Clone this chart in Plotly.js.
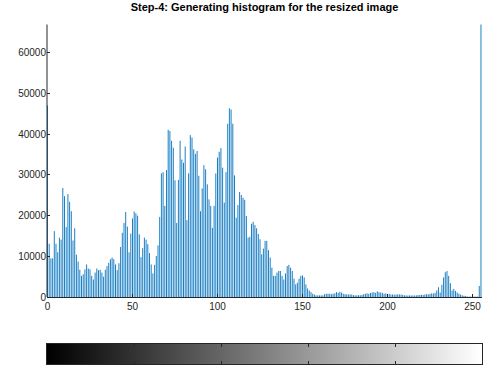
<!DOCTYPE html>
<html>
<head>
<meta charset="utf-8">
<script src="https://cdn.plot.ly/plotly-3.0.1.min.js"></script>
<style>
html,body{margin:0;padding:0;background:#fff;}
#wrap{position:relative;width:498px;height:382px;}
#chart,#cbar{position:absolute;left:0;top:0;width:498px;height:382px;}
#cbar{pointer-events:none;}
</style>
</head>
<body>
<div id="wrap"><div id="chart"></div><div id="cbar"></div></div>
<script>
// Histogram bins (intensity levels 0..255)
const bins = Array.from({length: 256}, (_, i) => i);

// Pixel counts, one per intensity level
const counts = [
  47100,13100,9500,9500,16200,13100,11000,14600,14100,26800,
  24800,17200,25300,23400,21100,13900,16900,10400,8700,6700,
  5200,5600,6800,8000,7000,6800,5200,4300,6000,7000,
  6600,6700,6000,5000,6700,7600,8400,9300,9700,9300,
  8000,6600,8300,12300,15800,18200,20900,17300,11000,15600,
  19300,21000,20600,20000,15400,9800,12000,14600,14100,13000,
  10800,8000,5800,7900,10100,12700,19700,30400,30700,22400,
  31200,41100,40800,38400,36700,28700,18200,28800,38400,33800,
  33000,37000,18900,30400,39800,39200,36300,35200,35900,29800,
  21100,26700,32400,31400,27700,24000,22400,17000,22400,30400,
  34300,35700,36600,31800,23200,30700,42600,46400,46100,42600,
  29900,19500,22600,25800,25100,24400,23900,19900,14600,14800,
  18000,18500,17700,16900,15500,14200,10500,11900,13800,13800,
  11500,9700,7200,5200,5200,6000,6400,6400,5200,4300,
  5800,7600,7900,7200,6400,4500,3100,3500,4500,5200,
  5300,4800,3100,2100,1600,1200,800,600,400,400,
  400,400,400,700,800,800,800,700,800,900,
  1200,1000,1300,1100,800,700,650,600,650,600,
  450,400,400,450,400,500,700,800,900,800,
  1000,1100,1200,1000,1400,1200,1100,1000,800,900,
  700,800,600,650,550,600,650,650,600,500,
  400,400,350,400,350,400,350,400,450,500,
  550,500,600,700,650,750,900,850,1000,1600,
  2400,1100,3000,4800,6100,6400,5200,3400,1600,2000,
  1500,1100,800,600,400,300,250,100,100,100,
  100,100,100,100,2700,67000
];

const xTicks = [0, 50, 100, 150, 200, 250];
const yTicks = [0, 10000, 20000, 30000, 40000, 50000, 60000];
const yAxisTop = 67000;   // upper y limit (largest bin count)
const titleText = 'Step-4: Generating histogram for the resized image';

const font = 'Liberation Sans, Arial, Helvetica, sans-serif';
const axisColor = '#262626';
const H = 354; // plot area spans y = 10 .. 364 px

// Stem segments (one vertical line per bin), built from the data arrays
const stemX = [], stemY = [];
bins.forEach((b, i) => { stemX.push(b, b, null); stemY.push(0, counts[i], null); });

const mainTraces = [{
  type: 'scatter',
  mode: 'lines',
  x: stemX,
  y: stemY,
  line: {color: '#0072BD', width: 0.9}
}];

const mainLayout = {
  width: 498,
  height: 382,
  margin: {l: 47, r: 16, t: 10, b: 18, pad: 0},
  paper_bgcolor: '#ffffff',
  plot_bgcolor: '#ffffff',
  showlegend: false,
  font: {family: font, size: 10, color: axisColor},
  title: {
    text: '<b>' + titleText + '</b>',
    font: {family: font, size: 11, color: '#000000'},
    x: 0.5, xref: 'paper', xanchor: 'center',
    y: 1 - 7 / 382, yref: 'container', yanchor: 'middle'
  },
  xaxis: {
    range: [-0.3, 255.6],
    tickmode: 'array',
    tickvals: xTicks,
    ticktext: xTicks.map(String),
    ticks: 'inside', ticklen: 3, tickcolor: axisColor, tickwidth: 1,
    showline: true, linecolor: axisColor, linewidth: 1,
    showgrid: false, zeroline: false,
    tickfont: {family: font, size: 10, color: axisColor}
  },
  yaxis: {
    domain: [(364 - 297) / H, (364 - 12.3) / H],
    range: [0, 70000],
    tickmode: 'array',
    tickvals: yTicks,
    ticktext: yTicks.map(String),
    ticks: 'inside', ticklen: 3, tickcolor: axisColor, tickwidth: 1,
    showline: false,
    showgrid: false, zeroline: false,
    tickfont: {family: font, size: 10, color: axisColor}
  },
  shapes: [{
    type: 'line', layer: 'above',
    xref: 'paper', yref: 'y',
    x0: 0, x1: 0, y0: 0, y1: yAxisTop,
    line: {color: axisColor, width: 1}
  }]
};

// Grey-level colour bar under the histogram
const cbarTraces = [{
  type: 'heatmap',
  x: bins,
  y: [0],
  z: [bins],
  zmin: 0, zmax: 255,
  colorscale: [[0, '#000000'], [1, '#ffffff']],
  showscale: false,
  hoverinfo: 'skip'
}];

const cbarLayout = {
  width: 498,
  height: 382,
  margin: {l: 47, r: 16, t: 10, b: 18, pad: 0},
  paper_bgcolor: 'rgba(0,0,0,0)',
  plot_bgcolor: 'rgba(0,0,0,0)',
  showlegend: false,
  xaxis: {
    range: [-0.5, 255.5],
    tickmode: 'array',
    tickvals: [50.7, 101.9, 153.1, 204.3],
    showticklabels: false,
    ticks: 'inside', ticklen: 3, tickcolor: axisColor, tickwidth: 1,
    showline: true, mirror: 'ticks', linecolor: axisColor, linewidth: 1,
    showgrid: false, zeroline: false
  },
  yaxis: {
    domain: [0, 20 / H],
    range: [-0.5, 0.5],
    showticklabels: false,
    ticks: '',
    showline: true, mirror: true, linecolor: axisColor, linewidth: 1,
    showgrid: false, zeroline: false
  }
};

Plotly.newPlot('chart', mainTraces, mainLayout, {displayModeBar: false});
Plotly.newPlot('cbar', cbarTraces, cbarLayout, {displayModeBar: false, staticPlot: true});
</script>
</body>
</html>
